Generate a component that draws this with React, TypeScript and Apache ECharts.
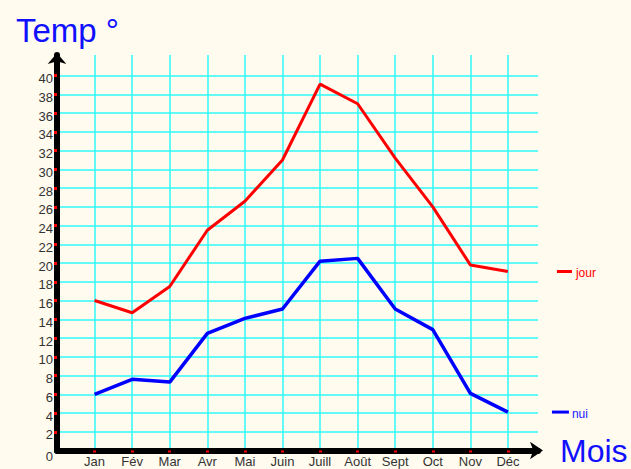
import React, { useEffect, useRef } from "react";
import * as echarts from "echarts";

const months = ["Jan", "Fév", "Mar", "Avr", "Mai", "Juin", "Juill", "Août", "Sept", "Oct", "Nov", "Déc"];
const monthPos = [1, 2, 3, 4, 5, 6, 7, 8, 9, 10, 11, 12];
const jour = [16, 14.7, 17.5, 23.5, 26.6, 31, 39.1, 37, 31.2, 26, 19.8, 19.1];
const nui = [6, 7.6, 7.3, 12.5, 14.1, 15.1, 20.2, 20.5, 15.1, 12.9, 6.1, 4.1];
const yLabels = [0, 2, 4, 6, 8, 10, 12, 14, 16, 18, 20, 22, 24, 26, 28, 30, 32, 34, 36, 38, 40];
const yTickVals = [2, 4, 6, 8, 10, 12, 14, 16, 18, 20, 22, 24, 26, 28, 30, 32, 34, 36, 38, 40];

const BG = "#fffbef";
const GRID = "#2ef8f8";
const FONT = "'Liberation Sans', Arial, sans-serif";
const X_MAX = 12.8;
const Y_MAX = 42.2;

export default function App() {
  const ref = useRef<HTMLDivElement>(null);
  useEffect(() => {
    if (!ref.current) return;
    const chart = echarts.init(ref.current, null, { renderer: "svg" });
    const gridLines = [
      ...monthPos.map((x) => ({ xAxis: x })),
      ...yTickVals.map((y) => ({ yAxis: y })),
    ];
    chart.setOption({
      animation: false,
      backgroundColor: BG,
      textStyle: { fontFamily: FONT },
      title: {
        text: "Temp °",
        left: 11,
        top: 9,
        textStyle: { fontSize: 33, fontWeight: "normal", color: "#1010ff", fontFamily: FONT },
      },
      grid: { left: 57, right: 93, top: 55, bottom: 18.5, containLabel: false, outerBoundsMode: "none" },
      xAxis: {
        type: "value",
        min: 0,
        max: X_MAX,
        interval: 1,
        z: 10,
        name: "Mois",
        nameLocation: "end",
        nameGap: 22,
        nameTextStyle: { fontSize: 32, color: "#1010ff", fontFamily: FONT, verticalAlign: "middle", padding: [12, 0, 0, 0] },
        axisLine: {
          show: true,
          lineStyle: { color: "#000", width: 6 },
          symbol: ["none", "arrow"],
          symbolSize: [13, 13],
          symbolOffset: [0, 5],
        },
        axisTick: { show: true, customValues: monthPos, length: 2, lineStyle: { color: "#ff0000", width: 3 } },
        axisLabel: {
          customValues: monthPos,
          formatter: (v: number) => months[Math.round(v) - 1] ?? "",
          fontSize: 13,
          color: "#333",
          margin: 4,
        },
        splitLine: { show: false },
      },
      yAxis: {
        type: "value",
        min: 0,
        max: Y_MAX,
        interval: 2,
        z: 10,
        axisLine: {
          show: true,
          lineStyle: { color: "#000", width: 6 },
          symbol: ["none", "arrow"],
          symbolSize: [14, 11],
          symbolOffset: [0, 2],
        },
        axisTick: { show: true, customValues: yTickVals, length: 3, lineStyle: { color: "#ff0000", width: 3 } },
        axisLabel: {
          customValues: yLabels,
          formatter: (v: number) => (v === 0 ? "{z|0}" : String(v)),
          fontSize: 13,
          color: "#333",
          margin: 4,
          padding: [6, 0, 0, 0],
          rich: { z: { fontSize: 13, color: "#333", padding: [5, 0, 0, 0] } },
        },
        splitLine: { show: false },
      },
      series: [
        {
          name: "grid",
          type: "line",
          data: [],
          z: 1,
          silent: true,
          markLine: {
            z: 1,
            silent: true,
            symbol: ["none", "none"],
            label: { show: false },
            lineStyle: { color: GRID, width: 1.5, type: "solid" },
            emphasis: { disabled: true },
            data: gridLines,
          },
        },
        {
          name: "jour",
          type: "line",
          z: 3,
          data: monthPos.map((x, i) => [x, jour[i]]),
          showSymbol: false,
          symbol: "none",
          lineStyle: { color: "#ff0000", width: 3 },
          itemStyle: { color: "#ff0000" },
          endLabel: {
            show: true,
            distance: 49,
            formatter: "{l| }{t|jour}",
            rich: {
              l: { width: 15, height: 3, backgroundColor: "#ff0000" },
              t: { color: "#ff0000", fontSize: 12, padding: [3, 0, 0, 4], fontFamily: FONT },
            },
          },
        },
        {
          name: "nui",
          type: "line",
          z: 3,
          data: monthPos.map((x, i) => [x, nui[i]]),
          showSymbol: false,
          symbol: "none",
          lineStyle: { color: "#0000ff", width: 3.5 },
          itemStyle: { color: "#0000ff" },
          endLabel: {
            show: true,
            distance: 44,
            formatter: "{l| }{t|nui}",
            rich: {
              l: { width: 17, height: 3, backgroundColor: "#0000ff" },
              t: { color: "#2020ff", fontSize: 12, padding: [3, 0, 0, 3], fontFamily: FONT },
            },
          },
        },
      ],
    });
    return () => chart.dispose();
  }, []);
  return (
    <div
      ref={ref}
      style={{ position: "fixed", left: 0, top: 0, width: 631, height: 469 }}
    />
  );
}
